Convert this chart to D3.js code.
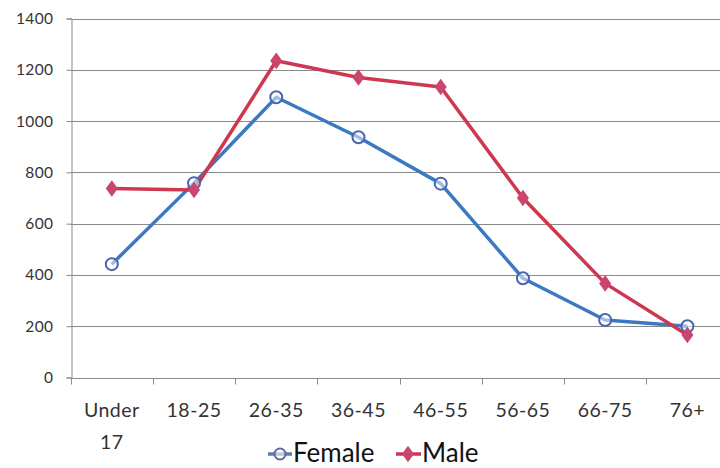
<!DOCTYPE html>
<html><head><meta charset="utf-8">
<script src="https://cdn.jsdelivr.net/npm/d3@7"></script>
<style>body{margin:0;background:#fff}svg{display:block}</style>
</head><body>
<svg id="c" width="720" height="468"></svg>
<script>
const categories = ["Under 17","18-25","26-35","36-45","46-55","56-65","66-75","76+"];
const female = [442, 758, 1093, 937, 756, 387, 224, 200];
const male = [737, 731, 1235, 1170, 1133, 700, 367, 166];
const yTicks = [0,200,400,600,800,1000,1200,1400];
const seriesNames = ["Female","Male"];

(function(){
const svg = d3.select("#c");
const mL = 70.7, mR = 728.5, mT = 18.5, mB = 377.5;
const x = d3.scaleBand().domain(categories).range([mL, mR]);
const y = d3.scaleLinear().domain([0,1400]).range([mB, mT]);
const font = "Lato, 'Open Sans', sans-serif";

// gridlines
svg.append("g").selectAll("line").data(yTicks.filter(d=>d>0)).join("line")
  .attr("x1", mL).attr("x2", 720).attr("y1", d=>Math.round(y(d))+0.5).attr("y2", d=>Math.round(y(d))+0.5)
  .attr("stroke","#8a8a8a").attr("stroke-width",1);

// y axis
const ya = svg.append("g").attr("transform",`translate(${Math.round(mL)+0.5},0)`)
  .call(d3.axisLeft(y).tickValues(yTicks).tickSize(5).tickPadding(13).tickFormat(d3.format("d")));
ya.select(".domain").attr("stroke","#8a8a8a");
ya.selectAll(".tick line").attr("stroke","#8a8a8a");
ya.selectAll(".tick text").attr("font-family",font).attr("font-size",15.5).attr("letter-spacing",0.4).attr("fill","#333");

// x axis
const xa = svg.append("g").attr("transform",`translate(0,${Math.round(y(0))+0.5})`);
xa.append("line").attr("x1",mL).attr("x2",720).attr("stroke","#8a8a8a");
xa.selectAll("line.t").data(d3.range(categories.length+1)).join("line").attr("class","t")
  .attr("x1",i=>Math.round(mL + i*x.step())+0.5).attr("x2",i=>Math.round(mL + i*x.step())+0.5)
  .attr("y1",0).attr("y2",6).attr("stroke","#8a8a8a");
const xl = xa.selectAll("text").data(categories).join("text")
  .attr("x", d=>x(d)+x.bandwidth()/2).attr("y", 38.5)
  .attr("text-anchor","middle").attr("font-family",font).attr("font-size",19.5).attr("letter-spacing",0.5).attr("fill","#333");
xl.each(function(d){
  const parts = d === "Under 17" ? ["Under","17"] : [d];
  d3.select(this).selectAll("tspan").data(parts).join("tspan")
    .attr("x", x(d)+x.bandwidth()/2).attr("dy",(p,i)=>i? 32:0).text(p=>p);
});

const blue = "#3b7ac2", blueMark = "#4a64ad", red = "#cf3650", redMark = "#c9466f";
const line = d3.line().x((d,i)=>x(categories[i])+x.bandwidth()/2).y(d=>y(d));

svg.append("path").datum(female).attr("d",line).attr("fill","none").attr("stroke",blue).attr("stroke-width",3.5).attr("stroke-linejoin","round");
svg.append("path").datum(male).attr("d",line).attr("fill","none").attr("stroke",red).attr("stroke-width",3.5).attr("stroke-linejoin","round");

svg.append("g").selectAll("circle").data(female).join("circle")
  .attr("cx",(d,i)=>x(categories[i])+x.bandwidth()/2).attr("cy",d=>y(d)).attr("r",6)
  .attr("fill","rgba(255,255,255,0.5)").attr("stroke",blueMark).attr("stroke-width",2);

const diamond = d3.symbol().type(d3.symbolDiamond).size(80);
svg.append("g").selectAll("path").data(male).join("path")
  .attr("transform",(d,i)=>`translate(${x(categories[i])+x.bandwidth()/2},${y(d)}) scale(1.25,1)`)
  .attr("d",diamond).attr("fill",redMark);

// legend
const lg = svg.append("g");
const ly = 454;
lg.append("line").attr("x1",268).attr("x2",292).attr("y1",ly).attr("y2",ly).attr("stroke","#5a7fae").attr("stroke-width",3.5);
lg.append("circle").attr("cx",280).attr("cy",ly).attr("r",5.5).attr("fill","rgba(255,255,255,0.6)").attr("stroke","#5b6a9a").attr("stroke-width",2);
lg.append("text").attr("x",293).attr("y",462).attr("font-family",font).attr("font-size",26).attr("fill","#111").text(seriesNames[0]);
lg.append("line").attr("x1",396).attr("x2",421).attr("y1",ly).attr("y2",ly).attr("stroke",red).attr("stroke-width",3.5);
lg.append("path").attr("transform",`translate(408,${ly}) scale(1.25,1)`).attr("d",diamond).attr("fill",redMark);
lg.append("text").attr("x",422).attr("y",462).attr("font-family",font).attr("font-size",26).attr("fill","#111").text(seriesNames[1]);
})();
</script>
</body></html>
